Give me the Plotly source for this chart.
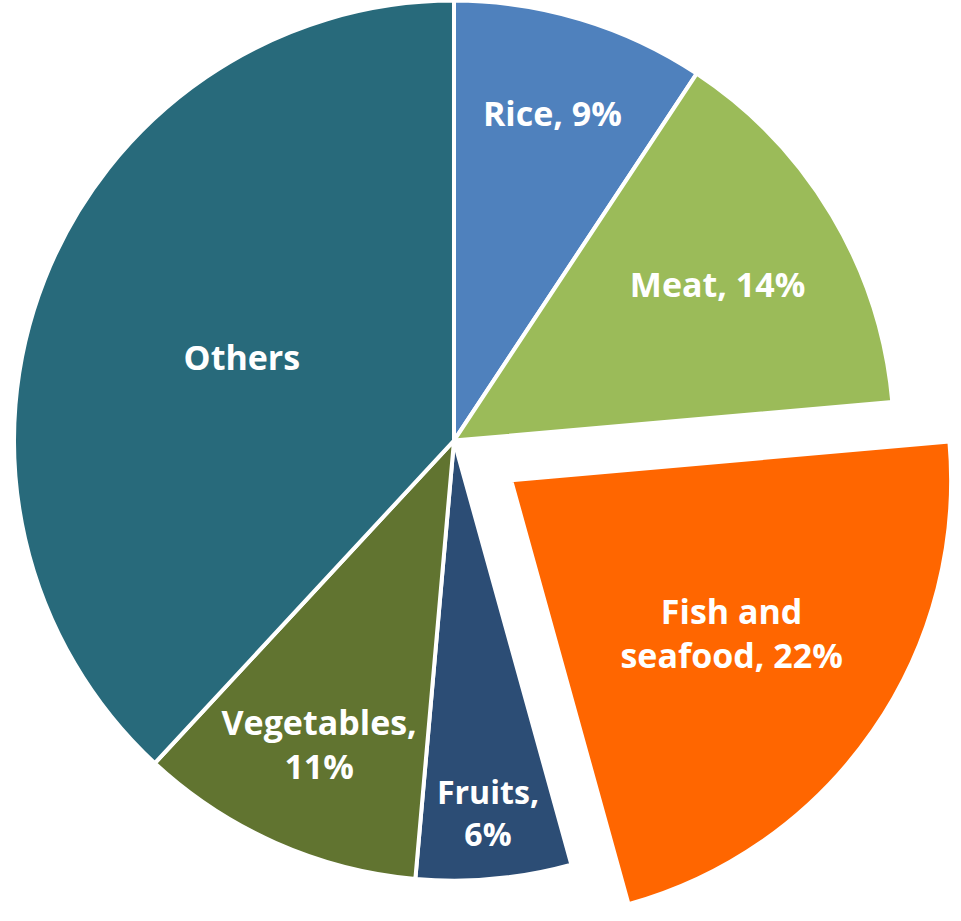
import math
import plotly.graph_objects as go

# ---- data ----
labels = ["Rice", "Meat", "Fish and seafood", "Fruits", "Vegetables", "Others"]
values = [9.3, 14.3, 22.1, 5.7, 10.5, 38.1]
label_text = ["Rice, 9%", "Meat, 14%", "Fish and<br>seafood, 22%", "Fruits,<br>6%", "Vegetables,<br>11%", "Others"]
colors = ["#4F81BD", "#9BBB59", "#FF6600", "#2C4D75", "#617430", "#286A7B"]
pulled_label = "Fish and seafood"

# ---- layout / style ----
W, H = 961, 921
R = 440.0          # pie radius in px
PULL = 0.158       # pull of the exploded slice (fraction of radius)
CX, CY = 454.0, 440.6  # pie centre (px from top-left)
LINE_W = 4
TRANSPARENT = "rgba(0,0,0,0)"

# direction of the pulled slice (clockwise from 12 o'clock)
total = sum(values)
k = labels.index(pulled_label)
start = sum(values[:k]) / total * 360
stop = sum(values[:k + 1]) / total * 360
mid = math.radians((start + stop) / 2)
d = PULL * R
CXB = CX + d * math.sin(mid)
CYB = CY - d * math.cos(mid)


def domain(cx, cy, r):
    clamp = lambda v: min(1.0, max(0.0, v))
    return dict(x=[clamp((cx - r) / W), clamp((cx + r) / W)],
                y=[clamp((H - cy - r) / H), clamp((H - cy + r) / H)])


def pie(show):
    return go.Pie(
        labels=labels,
        values=values,
        text=[t if s else "" for t, s in zip(label_text, show)],
        textinfo="text",
        textposition="inside",
        insidetextorientation="horizontal",
        sort=False,
        direction="clockwise",
        rotation=0,
        marker=dict(
            colors=[c if s else TRANSPARENT for c, s in zip(colors, show)],
            line=dict(color=["white" if s else TRANSPARENT for s in show],
                      width=[LINE_W if s else 0 for s in show]),
        ),
        textfont=dict(family="Open Sans", size=34, color="white", weight="bold"),
        hoverinfo="skip",
        showlegend=False,
    )


show_main = [lab != pulled_label for lab in labels]
show_pull = [lab == pulled_label for lab in labels]

trA = pie(show_main)
trA.domain = domain(CX, CY, R)
trB = pie(show_pull)
trB.domain = domain(CXB, CYB, R)

fig = go.Figure([trA, trB])
fig.update_layout(
    width=W, height=H,
    margin=dict(l=0, r=0, t=0, b=0),
    paper_bgcolor="white",
    plot_bgcolor="white",
    showlegend=False,
    uniformtext=dict(mode=False),
)
fig.write_html("out.html")
